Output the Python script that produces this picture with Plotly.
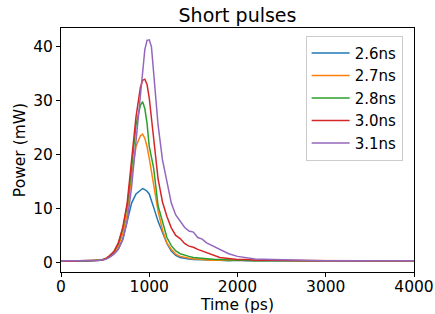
import plotly.graph_objects as go

time_ps = [0, 100, 200, 300, 400, 450, 500, 550, 600, 650, 700, 750, 800, 850, 900, 925, 950, 975,
           1000, 1025, 1050, 1100, 1150, 1200, 1250, 1300, 1350, 1400, 1450, 1500, 1550, 1600, 1650,
           1700, 1750, 1800, 1900, 2000, 2100, 2200, 2400, 2600, 2800, 3000, 3200, 3400, 3600, 3800, 4000]

p_26 = [0.3, 0.2, 0.3, 0.3, 0.4, 0.4, 0.6, 1.0, 1.6, 2.5, 4.3, 7.5, 11.0, 12.7, 13.4, 13.7, 13.5, 13.2,
        12.7, 11.6, 10.2, 7.6, 5.4, 3.5, 2.1, 1.3, 0.9, 0.7, 0.6, 0.5, 0.5, 0.4, 0.4,
        0.4, 0.4, 0.4, 0.3, 0.4, 0.3, 0.3, 0.3, 0.3, 0.3, 0.3, 0.3, 0.3, 0.3, 0.2, 0.3]

p_27 = [0.3, 0.3, 0.2, 0.3, 0.4, 0.4, 0.6, 1.1, 1.8, 3.0, 5.4, 9.0, 16.0, 21.5, 23.5, 23.8, 23.0, 21.5,
        19.3, 17.0, 14.8, 9.5, 6.0, 3.6, 2.4, 1.5, 1.1, 0.9, 0.7, 0.6, 0.6, 0.5, 0.5,
        0.4, 0.4, 0.4, 0.4, 0.3, 0.4, 0.3, 0.3, 0.3, 0.3, 0.3, 0.3, 0.3, 0.2, 0.3, 0.3]

p_28 = [0.3, 0.3, 0.3, 0.2, 0.4, 0.4, 0.6, 1.2, 2.0, 3.5, 6.2, 10.5, 17.5, 25.5, 29.2, 29.8, 28.5, 25.8,
        21.5, 19.5, 17.5, 10.5, 7.4, 4.6, 3.1, 2.1, 1.6, 1.3, 1.1, 0.9, 0.8, 0.7, 0.6,
        0.6, 0.5, 0.5, 0.4, 0.4, 0.4, 0.3, 0.3, 0.3, 0.3, 0.3, 0.3, 0.3, 0.3, 0.3, 0.3]

p_30 = [0.3, 0.2, 0.3, 0.3, 0.3, 0.4, 0.6, 1.2, 2.0, 3.6, 6.5, 11.0, 19.0, 27.0, 32.5, 33.8, 34.0, 33.0,
        30.5, 27.0, 22.5, 15.5, 11.2, 8.5, 6.4, 5.0, 4.4, 3.5, 3.0, 2.8, 2.4, 2.1, 1.8,
        1.4, 1.1, 0.9, 0.7, 0.5, 0.5, 0.4, 0.4, 0.3, 0.3, 0.3, 0.3, 0.3, 0.3, 0.3, 0.3]

p_31 = [0.3, 0.3, 0.2, 0.3, 0.3, 0.4, 0.5, 0.9, 1.5, 2.4, 4.2, 7.6, 14.0, 22.5, 30.5, 35.5, 39.5, 41.2,
        41.3, 40.0, 35.5, 25.5, 19.0, 15.0, 11.0, 8.8, 7.6, 6.5, 5.8, 5.6, 4.6, 4.3, 3.6,
        3.2, 2.7, 2.3, 1.6, 1.1, 0.9, 0.6, 0.5, 0.4, 0.4, 0.3, 0.3, 0.3, 0.3, 0.3, 0.3]

series_names = ["2.6ns", "2.7ns", "2.8ns", "3.0ns", "3.1ns"]
series_values = [p_26, p_27, p_28, p_30, p_31]
colors = ["#1f77b4", "#ff7f0e", "#2ca02c", "#d62728", "#9467bd"]

x_ticks = [0, 1000, 2000, 3000, 4000]
y_ticks = [0, 10, 20, 30, 40]

FONT = "DejaVu Sans"

fig = go.Figure()
for name, vals, col in zip(series_names, series_values, colors):
    fig.add_trace(go.Scatter(x=time_ps, y=vals, mode="lines", name=name,
                             line=dict(color=col, width=1.5)))

fig.update_layout(
    width=435, height=314,
    margin=dict(l=61, r=21, t=28, b=42),
    paper_bgcolor="white", plot_bgcolor="white",
    font=dict(family=FONT, size=15.5, color="black"),
    title=dict(text="Short pulses", x=0.546, xanchor="center", y=0.95, yanchor="middle",
               font=dict(size=19, family=FONT, color="black")),
    showlegend=True,
    legend=dict(x=0.693, y=0.968, xanchor="left", yanchor="top",
                bgcolor="rgba(255,255,255,0.8)", bordercolor="#cccccc", borderwidth=1,
                font=dict(size=15, family=FONT), itemwidth=38),
)
fig.update_xaxes(range=[0, 4000], tickvals=x_ticks, showgrid=False, zeroline=False,
                 showline=True, linecolor="black", linewidth=1, mirror=True,
                 ticks="outside", ticklen=4, tickcolor="black", automargin=False,
                 ticklabelstandoff=-4,
                 title=dict(text="Time (ps)", standoff=0, font=dict(size=15.5)))
fig.update_yaxes(range=[-1.8, 43.5], tickvals=y_ticks, showgrid=False, zeroline=False,
                 showline=True, linecolor="black", linewidth=1, mirror=True,
                 ticks="outside", ticklen=4, tickcolor="black", automargin=False,
                 title=dict(text="Power (mW)", standoff=3, font=dict(size=15.5)))

fig.write_html("out.html", config={"displayModeBar": False},
               post_script="document.body.style.margin='0';document.body.style.padding='0';")
